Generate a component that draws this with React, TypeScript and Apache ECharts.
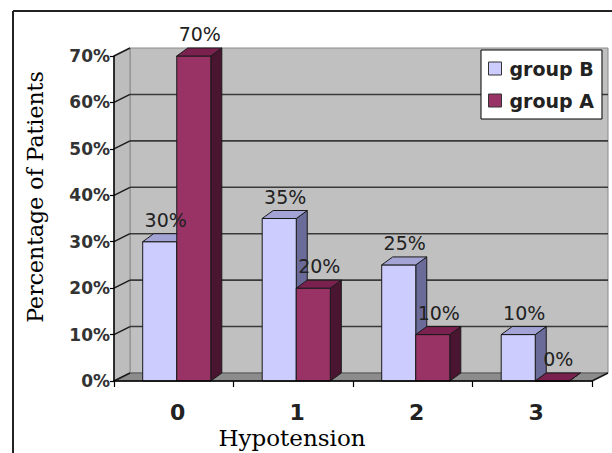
import React, { useEffect, useRef } from "react";
import * as echarts from "echarts";

const categories = ["0", "1", "2", "3"];
const groupB = [30, 35, 25, 10];
const groupA = [70, 20, 10, 0];
const yTicks = [0, 10, 20, 30, 40, 50, 60, 70];

const DX = 11;
const DY = -8;
const WDX = 16;
const WDY = -8;

function barRenderer(which: "B" | "A", front: string, top: string, side: string) {
  return (params: any, api: any) => {
    const cat = api.value(0);
    const val = api.value(1);
    const base = api.coord([cat, 0]);
    const topPt = api.coord([cat, val]);
    const bw = api.size([1, 0])[0] * 0.285;
    const cx = base[0] + 3;
    const left = which === "B" ? cx - bw : cx;
    const yb = base[1];
    const yt = topPt[1];
    const stroke = "#1a1a1a";
    return {
      type: "group",
      children: [
        {
          type: "polygon",
          shape: { points: [[left + bw, yt], [left + bw + DX, yt + DY], [left + bw + DX, yb + DY], [left + bw, yb]] },
          style: { fill: side, stroke, lineWidth: 1 },
        },
        {
          type: "rect",
          shape: { x: left, y: yt, width: bw, height: yb - yt },
          style: { fill: front, stroke, lineWidth: 1 },
        },
        {
          type: "polygon",
          shape: { points: [[left, yt], [left + DX, yt + DY], [left + bw + DX, yt + DY], [left + bw, yt]] },
          style: { fill: top, stroke, lineWidth: 1 },
        },
        {
          type: "text",
          z2: 100,
          style: {
            text: val + "%",
            x: left + bw / 2 + 6,
            y: yt + DY - 14,
            textAlign: "center",
            textVerticalAlign: "middle",
            font: '19px "DejaVu Sans"',
            fill: "#222",
          },
        },
      ],
    };
  };
}

function wallRenderer(params: any, api: any) {
  if (params.dataIndex !== 0) return null;
  const cs = params.coordSys;
  const gx = cs.x;
  const gy = cs.y;
  const gw = cs.width;
  const gh = cs.height;
  const children: any[] = [];
  children.push({
    type: "rect",
    shape: { x: gx + WDX, y: gy + WDY, width: gw, height: gh },
    style: { fill: "#C0C0C0", stroke: "#8a8a8a", lineWidth: 1 },
  });
  children.push({
    type: "polygon",
    shape: { points: [[gx, gy], [gx + WDX, gy + WDY], [gx + WDX, gy + gh + WDY], [gx, gy + gh]] },
    style: { fill: "#BDBDBD", stroke: "#8a8a8a", lineWidth: 1 },
  });
  children.push({
    type: "polygon",
    shape: {
      points: [[gx, gy + gh], [gx + WDX, gy + gh + WDY], [gx + gw + WDX, gy + gh + WDY], [gx + gw, gy + gh]],
    },
    style: { fill: "#8C8C8C", stroke: "#555", lineWidth: 1 },
  });
  yTicks.forEach((v) => {
    const y = api.coord([0, v])[1];
    if (v > 0 && v < 70) {
      children.push({
        type: "line",
        shape: { x1: gx + WDX, y1: y + WDY, x2: gx + gw + WDX, y2: y + WDY },
        style: { stroke: "#3a3a3a", lineWidth: 1.6 },
      });
    }
    children.push({
      type: "line",
      shape: { x1: gx, y1: y, x2: gx + WDX, y2: y + WDY },
      style: { stroke: "#1a1a1a", lineWidth: 1.4 },
    });
  });
  children.push({
    type: "line",
    shape: { x1: gx + gw, y1: gy + gh, x2: gx + gw + WDX, y2: gy + gh + WDY },
    style: { stroke: "#1a1a1a", lineWidth: 1.4 },
  });
  return { type: "group", children };
}

export default function App() {
  const ref = useRef<HTMLDivElement>(null);
  useEffect(() => {
    if (!ref.current) return;
    const chart = echarts.init(ref.current, null, { renderer: "svg" });
    const option: any = {
      animation: false,
      backgroundColor: "#fff",
      grid: { left: 114, right: 20, top: 56, bottom: 72 },
      xAxis: {
        type: "category",
        data: categories,
        z: 5,
        axisLine: { lineStyle: { color: "#000", width: 1.5 } },
        axisTick: { show: true, length: 6, lineStyle: { color: "#000", width: 1.2 } },
        axisLabel: {
          margin: 22,
          lineHeight: 18,
          padding: [0, 0, 0, 8],
          fontFamily: "DejaVu Sans",
          fontWeight: "bold",
          fontSize: 22,
          color: "#222",
        },
        splitLine: { show: false },
      },
      yAxis: {
        type: "value",
        min: 0,
        max: 70,
        interval: 10,
        z: 5,
        axisLine: { show: true, lineStyle: { color: "#000", width: 1.5 } },
        axisTick: { show: true, length: 4, lineStyle: { color: "#000", width: 1.2 } },
        axisLabel: {
          formatter: "{value}%",
          margin: 4,
          fontFamily: "DejaVu Sans",
          fontWeight: "bold",
          fontSize: 17,
          color: "#333",
        },
        splitLine: { show: false },
      },
      legend: {
        data: [
          { name: "group B", icon: "rect", itemStyle: { color: "#CCCCFF", borderColor: "#333", borderWidth: 1 } },
          { name: "group A", icon: "rect", itemStyle: { color: "#993366", borderColor: "#333", borderWidth: 1 } },
        ],
        orient: "vertical",
        left: 481,
        top: 50,
        padding: [9, 8, 9, 7],
        itemWidth: 13,
        itemHeight: 13,
        itemGap: 13,
        backgroundColor: "#fff",
        borderColor: "#000",
        borderWidth: 1,
        textStyle: { fontFamily: "DejaVu Sans", fontWeight: "bold", fontSize: 19, color: "#222", padding: [0, 0, 0, 3] },
      },
      graphic: [
        { type: "line", shape: { x1: 13, y1: 11, x2: 612, y2: 11 }, style: { stroke: "#222", lineWidth: 2 } },
        { type: "line", shape: { x1: 13, y1: 11, x2: 13, y2: 453 }, style: { stroke: "#222", lineWidth: 2 } },
        {
          type: "text",
          x: 35,
          y: 197,
          rotation: Math.PI / 2,
          style: {
            text: "Percentage of Patients",
            textAlign: "center",
            textVerticalAlign: "middle",
            font: '22px "DejaVu Serif"',
            fill: "#000",
          },
        },
        {
          type: "text",
          x: 292,
          y: 438,
          style: {
            text: "Hypotension",
            textAlign: "center",
            textVerticalAlign: "middle",
            font: '23px "DejaVu Serif"',
            fill: "#000",
          },
        },
      ],
      series: [
        {
          type: "custom",
          name: "walls",
          z: 1,
          coordinateSystem: "cartesian2d",
          renderItem: wallRenderer,
          data: [[0, 0]],
          encode: { x: 0, y: 1 },
          silent: true,
        },
        {
          type: "custom",
          name: "group B",
          z: 2,
          coordinateSystem: "cartesian2d",
          itemStyle: { color: "#CCCCFF" },
          renderItem: barRenderer("B", "#CCCCFF", "#A3A3D6", "#6B6B99"),
          data: categories.map((c, i) => [i, groupB[i]]),
          encode: { x: 0, y: 1 },
        },
        {
          type: "custom",
          name: "group A",
          z: 2,
          coordinateSystem: "cartesian2d",
          itemStyle: { color: "#993366" },
          renderItem: barRenderer("A", "#993366", "#7A2150", "#4A1530"),
          data: categories.map((c, i) => [i, groupA[i]]),
          encode: { x: 0, y: 1 },
        },
      ],
    };
    chart.setOption(option);
    return () => chart.dispose();
  }, []);
  return <div ref={ref} style={{ position: "fixed", left: 0, top: 0, width: 612, height: 453 }} />;
}
